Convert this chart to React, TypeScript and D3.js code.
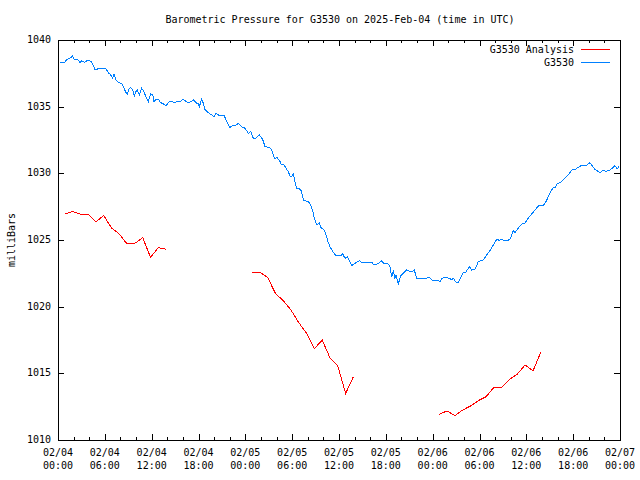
import React from "react";
import * as d3 from "d3";

const titleText = "Barometric Pressure for G3530 on 2025-Feb-04 (time in UTC)";
const yAxisLabel = "milliBars";
const yTicks = [1010, 1015, 1020, 1025, 1030, 1035, 1040];
const seriesNames = ["G3530 Analysis", "G3530"];
const seriesColors = ["#ff0000", "#0080ff"];

// hours since 2025-02-04 00:00 UTC
const blueHours = [
  0.2, 0.9, 1.11, 1.54, 1.84, 2.09, 2.6, 2.82, 3.03, 3.46, 3.67, 4.0, 4.31, 4.61, 4.74, 4.95, 5.29, 6.02, 6.24, 6.45,
  6.75, 7.0, 7.17, 7.43, 7.73, 8.16, 8.37, 8.71, 8.88, 9.14, 9.31, 9.57, 9.78, 9.99, 10.16, 10.42, 10.72, 10.93, 11.27,
  11.57, 11.87, 12.13, 12.3, 12.55, 12.85, 13.16, 13.5, 13.84, 14.27, 14.99, 15.29, 15.63, 15.97, 16.27, 16.7, 17.12,
  17.34, 17.77, 17.98, 18.1, 18.41, 18.62, 18.83, 19.26, 19.69, 19.98, 20.24, 20.54, 20.97, 21.27, 21.52, 21.82, 22.03,
  22.38, 22.89, 23.1, 23.53, 23.96, 24.38, 24.69, 25.02, 25.37, 25.79, 26.22, 26.52, 27.07, 27.37, 27.8, 28.01, 28.35,
  28.65, 28.95, 29.21, 29.51, 29.72, 29.94, 30.15, 30.36, 30.58, 31.09, 31.35, 31.51, 32.07, 32.37, 32.63, 32.8, 33.05,
  33.22, 33.48, 33.65, 33.99, 34.2, 34.42, 34.63, 34.85, 35.19, 35.61, 36.21, 36.47, 36.77, 37.07, 37.32, 37.63, 38.05,
  38.6, 38.91, 40.19, 40.48, 40.83, 41.17, 41.47, 41.76, 42.31, 42.53, 42.75, 42.96, 43.17, 43.3, 43.6, 43.9, 44.24,
  44.67, 45.09, 45.43, 45.65, 45.95, 47.23, 47.57, 47.88, 48.73, 48.94, 49.16, 49.58, 50.14, 50.44, 50.65, 50.99, 51.29,
  51.72, 51.93, 52.27, 52.7, 53.0, 53.42, 53.85, 54.49, 54.92, 55.34, 55.77, 56.2, 56.54, 56.84, 57.14, 57.69, 57.99,
  58.33, 58.55, 58.97, 59.4, 59.83, 60.25, 60.68, 61.11, 61.54, 62.18, 62.52, 62.82, 63.12, 63.46, 63.67, 63.97, 64.4,
  64.74, 65.17, 65.51, 65.81, 66.36, 66.79, 67.09, 67.73, 68.15, 68.37, 68.79, 69.43, 69.77, 70.28, 70.71, 71.13, 71.35,
  71.64, 71.9,
];
const blueValues = [
  1038.33, 1038.33, 1038.55, 1038.63, 1038.8, 1038.55, 1038.5, 1038.3, 1038.43, 1038.33, 1038.43, 1038.5, 1038.33,
  1038.0, 1037.75, 1037.8, 1037.88, 1037.88, 1037.75, 1037.55, 1037.38, 1037.13, 1037.43, 1037.0, 1036.8, 1036.75,
  1036.5, 1036.05, 1035.95, 1036.38, 1036.45, 1036.25, 1035.8, 1036.13, 1036.25, 1035.88, 1036.38, 1036.2, 1035.75,
  1035.38, 1035.95, 1035.93, 1035.38, 1035.55, 1035.55, 1035.3, 1035.2, 1035.08, 1035.38, 1035.33, 1035.38, 1035.35,
  1035.55, 1035.45, 1035.3, 1035.38, 1035.5, 1035.25, 1035.25, 1035.0, 1035.55, 1035.25, 1034.8, 1034.55, 1034.38,
  1034.25, 1034.5, 1034.38, 1034.3, 1034.38, 1034.0, 1033.63, 1033.45, 1033.6, 1033.63, 1033.75, 1033.5, 1033.38, 1033.0,
  1033.13, 1032.63, 1032.63, 1032.88, 1032.55, 1032.0, 1031.95, 1031.75, 1031.05, 1031.2, 1031.0, 1030.63, 1030.63,
  1030.38, 1030.13, 1029.8, 1029.75, 1029.95, 1029.38, 1028.88, 1028.8, 1028.25, 1027.95, 1027.9, 1027.63, 1027.2,
  1026.75, 1026.3, 1026.13, 1026.3, 1025.95, 1025.8, 1025.63, 1025.25, 1024.8, 1024.5, 1024.13, 1023.83, 1023.83,
  1023.95, 1023.63, 1023.75, 1023.45, 1023.08, 1023.25, 1023.45, 1023.33, 1023.33, 1023.13, 1023.2, 1023.3, 1023.43,
  1023.25, 1023.2, 1023.0, 1022.25, 1022.63, 1022.13, 1022.38, 1021.7, 1022.33, 1022.5, 1022.75, 1022.63, 1022.63,
  1022.75, 1022.13, 1022.13, 1022.2, 1022.0, 1021.95, 1021.83, 1022.13, 1022.2, 1022.13, 1022.0, 1022.13, 1021.83,
  1021.83, 1022.3, 1022.55, 1022.6, 1023.0, 1022.75, 1022.8, 1023.38, 1023.5, 1023.88, 1024.2, 1024.63, 1025.05,
  1024.98, 1025.05, 1024.98, 1024.98, 1025.13, 1025.7, 1025.55, 1025.88, 1026.2, 1026.28, 1026.63, 1026.95, 1027.25,
  1027.55, 1027.6, 1027.88, 1028.25, 1028.63, 1028.95, 1028.9, 1029.25, 1029.3, 1029.55, 1029.75, 1030.0, 1030.25,
  1030.33, 1030.5, 1030.6, 1030.6, 1030.8, 1030.63, 1030.3, 1030.05, 1030.2, 1030.15, 1030.25, 1030.43, 1030.58,
  1030.33, 1030.55,
];

// Analysis (hourly), null marks a gap between segments
const redHours = [
  0.85, 1.85, 2.85, 3.85, 4.85, 5.85, 6.85, 7.85, 8.85, 9.85, 10.85, 11.85, 12.85, 13.85,
  null,
  24.85, 25.85, 26.85, 27.85, 28.85, 29.85, 30.85, 31.85, 32.85, 33.85, 34.85, 35.85, 36.85, 37.85,
  null,
  48.85, 49.85, 50.85, 51.85, 52.85, 53.85, 54.85, 55.85, 56.85, 57.85, 58.85, 59.85, 60.85, 61.85,
];
const redValues = [
  1026.93, 1027.13, 1026.95, 1026.95, 1026.35, 1026.85, 1025.9, 1025.45, 1024.7, 1024.75, 1025.18, 1023.7, 1024.43, 1024.3,
  null,
  1022.58, 1022.58, 1022.2, 1021.0, 1020.45, 1019.75, 1018.8, 1018.0, 1016.85, 1017.5, 1016.15, 1015.55, 1013.5, 1014.75,
  null,
  1011.93, 1012.18, 1011.83, 1012.25, 1012.55, 1012.95, 1013.25, 1013.95, 1013.95, 1014.55, 1014.95, 1015.63, 1015.18, 1016.58,
];

const START = Date.UTC(2025, 1, 4, 0, 0);
const END = Date.UTC(2025, 1, 7, 0, 0);
const toDate = (h: number) => new Date(START + h * 3600 * 1000);

const W = 640;
const H = 480;
const L = 58;
const R = 620;
const T = 40;
const B = 440;
const FONT = "'DejaVu Sans Mono', monospace";

export default function App() {
  const x = d3.scaleUtc().domain([new Date(START), new Date(END)]).range([L, R]);
  const y = d3.scaleLinear().domain([1010, 1040]).range([B, T]);

  const blue = blueHours.map((h, i) => ({ d: toDate(h), v: blueValues[i] }));
  const red = redHours.map((h, i) => ({ d: h == null ? null : toDate(h), v: redValues[i] }));

  const line = d3
    .line<{ d: Date | null; v: number | null }>()
    .defined((p) => p.d != null && p.v != null)
    .x((p) => x(p.d as Date))
    .y((p) => y(p.v as number));

  const majorTicks = d3.utcHour.every(6)!.range(new Date(START), new Date(END + 1));
  const minorTicks = d3.utcHour
    .every(2)!
    .range(new Date(START), new Date(END + 1))
    .filter((d) => d.getUTCHours() % 6 !== 0);
  const fmtDate = d3.utcFormat("%m/%d");
  const fmtTime = d3.utcFormat("%H:%M");

  const px = (v: number) => Math.round(v) + 0.5;

  return (
    <svg
      width={W}
      height={H}
      style={{ position: "absolute", left: 0, top: 0, background: "#fff" }}
      fontFamily={FONT}
      fontSize={10}
    >
      <rect x={0} y={0} width={W} height={H} fill="#fff" />
      <text x={340} y={20} textAnchor="middle" dominantBaseline="middle" fill="#000">
        {titleText}
      </text>
      <text
        transform={`translate(12,240) rotate(-90)`}
        textAnchor="middle"
        dominantBaseline="middle"
        fill="#000"
      >
        {yAxisLabel}
      </text>

      {/* y ticks */}
      {yTicks.map((t) => (
        <g key={`y${t}`}>
          <line x1={L} x2={L + 6} y1={px(y(t))} y2={px(y(t))} stroke="#000" shapeRendering="crispEdges" />
          <line x1={R - 6} x2={R} y1={px(y(t))} y2={px(y(t))} stroke="#000" shapeRendering="crispEdges" />
          <text x={51} y={y(t)} textAnchor="end" dominantBaseline="middle" fill="#000">
            {t}
          </text>
        </g>
      ))}

      {/* x ticks */}
      {majorTicks.map((d) => (
        <g key={`x${+d}`}>
          <line x1={px(x(d))} x2={px(x(d))} y1={B} y2={B - 6} stroke="#000" shapeRendering="crispEdges" />
          <line x1={px(x(d))} x2={px(x(d))} y1={T} y2={T + 6} stroke="#000" shapeRendering="crispEdges" />
          <text x={x(d)} y={453} textAnchor="middle" dominantBaseline="middle" fill="#000">
            {fmtDate(d)}
          </text>
          <text x={x(d)} y={466} textAnchor="middle" dominantBaseline="middle" fill="#000">
            {fmtTime(d)}
          </text>
        </g>
      ))}
      {minorTicks.map((d) => (
        <g key={`m${+d}`}>
          <line x1={px(x(d))} x2={px(x(d))} y1={B} y2={B - 3} stroke="#000" shapeRendering="crispEdges" />
          <line x1={px(x(d))} x2={px(x(d))} y1={T} y2={T + 3} stroke="#000" shapeRendering="crispEdges" />
        </g>
      ))}

      {/* data */}
      <path d={line(red) || ""} fill="none" stroke={seriesColors[0]} strokeWidth={1} shapeRendering="crispEdges" />
      <path d={line(blue) || ""} fill="none" stroke={seriesColors[1]} strokeWidth={1} shapeRendering="crispEdges" />

      {/* legend */}
      {seriesNames.map((name, i) => (
        <g key={name}>
          <text x={574} y={50 + i * 13} textAnchor="end" dominantBaseline="middle" fill="#000">
            {name}
          </text>
          <line
            x1={581}
            x2={610}
            y1={px(49 + i * 13)}
            y2={px(49 + i * 13)}
            stroke={seriesColors[i]}
            shapeRendering="crispEdges"
          />
        </g>
      ))}

      {/* frame */}
      <rect
        x={L + 0.5}
        y={T + 0.5}
        width={R - L}
        height={B - T}
        fill="none"
        stroke="#000"
        shapeRendering="crispEdges"
      />
    </svg>
  );
}
